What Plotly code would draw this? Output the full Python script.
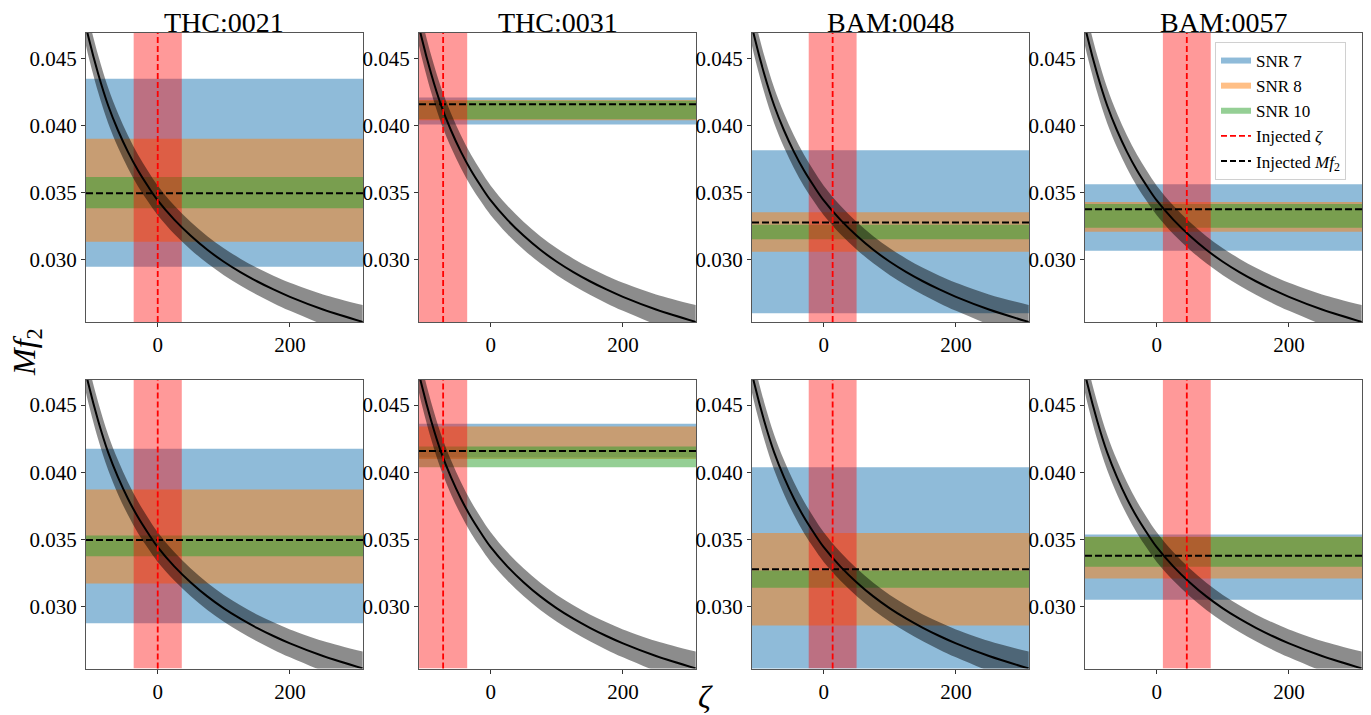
import plotly.graph_objects as go
from plotly.subplots import make_subplots

# ---------------- data ----------------
panels = ["THC:0021", "THC:0031", "BAM:0048", "BAM:0057"]

# injected values per panel
zeta_inj = [0.0, -72.0, 13.5, 45.5]
zeta_err = [36.4, 36.4, 36.2, 36.2]
mf2_inj = [0.03495, 0.04158, 0.03277, 0.03377]

# fit relation Mf2(zeta) (black curve) and its half-width (grey band)
zeta_fit = [-110, -105, -90, -75, -60, -45, -30, -15, 0, 25, 50, 75, 100,
            125, 150, 175, 200, 250, 310]
mf2_fit = [0.04771, 0.04661, 0.04382, 0.04148, 0.03962, 0.03803, 0.03666,
           0.03549, 0.03442, 0.03299, 0.03179, 0.03075, 0.02986, 0.02909,
           0.02841, 0.02780, 0.02725, 0.02631, 0.02539]
mf2_fit_hw = [0.00145, 0.00143, 0.00138, 0.00132, 0.00127, 0.00122, 0.00118,
              0.00114, 0.00110, 0.00106, 0.00103, 0.00101, 0.00100, 0.00100,
              0.00100, 0.00102, 0.00104, 0.00112, 0.00125]

# SNR credible bands, top row
snr7_top_lo = [0.02949, 0.04007, 0.02603, 0.03068]
snr7_top_hi = [0.04346, 0.04208, 0.03815, 0.03563]
snr8_top_lo = [0.03135, 0.04039, 0.03061, 0.03210]
snr8_top_hi = [0.03900, 0.04188, 0.03354, 0.03431]
snr10_top_lo = [0.03384, 0.04045, 0.03153, 0.03239]
snr10_top_hi = [0.03617, 0.04184, 0.03262, 0.03416]

# SNR credible bands, bottom row
snr7_bot_lo = [0.02875, 0.04110, 0.02400, 0.03050]
snr7_bot_hi = [0.04174, 0.04362, 0.04037, 0.03536]
snr8_bot_lo = [0.03172, 0.04099, 0.02858, 0.03209]
snr8_bot_hi = [0.03872, 0.04340, 0.03547, 0.03520]
snr10_bot_lo = [0.03375, 0.04037, 0.03139, 0.03295]
snr10_bot_hi = [0.03528, 0.04191, 0.03268, 0.03518]

snr_labels = ["SNR 7", "SNR 8", "SNR 10"]
x_ticks = [0, 200]
y_ticks = [0.030, 0.035, 0.040, 0.045]

# ---------------- styling / layout ----------------
WF, HF = 1371, 715
SERIF = "Liberation Serif"
SNR_COLORS = ["rgba(31,119,180,0.5)", "rgba(255,127,14,0.5)", "rgba(44,160,44,0.5)"]
RED_FILL = "rgba(255,0,0,0.4)"
GREY_FILL = "rgba(0,0,0,0.45)"
XR = [-108.5, 310.5]
YR = [0.02538, 0.04687]
COL_L = [86, 419, 752, 1085]
PW = 277
ROW_T = [33, 380]
ROW_B = [322, 668.5]


def px_x(p):
    return p / WF


def px_y(p):
    return 1 - p / HF


fig = make_subplots(rows=2, cols=4)

upper = [m + h for m, h in zip(mf2_fit, mf2_fit_hw)]
lower = [m - h for m, h in zip(mf2_fit, mf2_fit_hw)]

rows_bands = [
    [(snr7_top_lo, snr7_top_hi), (snr8_top_lo, snr8_top_hi), (snr10_top_lo, snr10_top_hi)],
    [(snr7_bot_lo, snr7_bot_hi), (snr8_bot_lo, snr8_bot_hi), (snr10_bot_lo, snr10_bot_hi)],
]

for r in range(2):
    for c in range(4):
        R, C = r + 1, c + 1
        first = (r == 0 and c == 0)
        # SNR bands spanning the full zeta range
        for k, (lo, hi) in enumerate(rows_bands[r]):
            fig.add_trace(go.Scatter(
                x=[XR[0], XR[1], XR[1], XR[0]], y=[lo[c], lo[c], hi[c], hi[c]],
                mode="none", fill="toself", fillcolor=SNR_COLORS[k],
                name=snr_labels[k], legendgroup=snr_labels[k], legendrank=k + 1,
                showlegend=first, hoverinfo="skip"), row=R, col=C)
        # injected zeta band
        z0, z1 = zeta_inj[c] - zeta_err[c], zeta_inj[c] + zeta_err[c]
        fig.add_trace(go.Scatter(
            x=[z0, z1, z1, z0], y=[YR[0], YR[0], YR[1], YR[1]],
            mode="none", fill="toself", fillcolor=RED_FILL,
            showlegend=False, hoverinfo="skip"), row=R, col=C)
        # grey band of fit
        fig.add_trace(go.Scatter(x=zeta_fit, y=lower, mode="lines",
                                 line=dict(width=0, shape="spline"),
                                 showlegend=False, hoverinfo="skip"), row=R, col=C)
        fig.add_trace(go.Scatter(x=zeta_fit, y=upper, mode="lines",
                                 line=dict(width=0, shape="spline"),
                                 fill="tonexty", fillcolor=GREY_FILL,
                                 showlegend=False, hoverinfo="skip"), row=R, col=C)
        # fit curve
        fig.add_trace(go.Scatter(x=zeta_fit, y=mf2_fit, mode="lines",
                                 line=dict(color="black", width=2, shape="spline"),
                                 showlegend=False, hoverinfo="skip"), row=R, col=C)
        # injected lines
        fig.add_hline(y=mf2_inj[c], line=dict(color="black", width=2, dash="7px,3px"),
                      row=R, col=C)
        fig.add_vline(x=zeta_inj[c], line=dict(color="red", width=1.8, dash="6px,3px"),
                      row=R, col=C)

        fig.update_xaxes(domain=[px_x(COL_L[c]), px_x(COL_L[c] + PW)], range=XR,
                         tickvals=x_ticks, row=R, col=C)
        fig.update_yaxes(domain=[px_y(ROW_B[r]), px_y(ROW_T[r])], range=YR,
                         tickvals=y_ticks, tickformat=".3f", row=R, col=C)

# legend entries for the dashed lines
fig.add_trace(go.Scatter(x=[None], y=[None], mode="lines",
                         line=dict(color="red", width=1.8, dash="6px,3px"),
                         name="Injected <i>ζ</i>", legendrank=4), row=1, col=4)
fig.add_trace(go.Scatter(x=[None], y=[None], mode="lines",
                         line=dict(color="black", width=2, dash="6px,3px"),
                         name="Injected <i>Mf</i><sub>2</sub>", legendrank=5), row=1, col=4)

axis_style = dict(showgrid=False, zeroline=False, showline=True, mirror=True,
                  linecolor="#555", linewidth=1, ticks="outside", ticklen=4,
                  tickwidth=1, tickcolor="#333",
                  tickfont=dict(family=SERIF, size=21, color="black"))
fig.update_xaxes(**axis_style)
fig.update_yaxes(**axis_style)

# panel titles
for c, name in enumerate(panels):
    fig.add_annotation(text=name, x=px_x(COL_L[c] + PW / 2), y=px_y(22),
                       xref="paper", yref="paper", showarrow=False,
                       xanchor="center", yanchor="middle",
                       font=dict(family=SERIF, size=28, color="black"))

# axis labels
fig.add_annotation(text="<i>Mf</i><sub>2</sub>", x=px_x(26), y=px_y(352),
                   xref="paper", yref="paper", showarrow=False, textangle=-90,
                   xanchor="center", yanchor="middle",
                   font=dict(family=SERIF, size=32, color="black"))
fig.add_annotation(text="<i>ζ</i>", x=px_x(705), y=px_y(697),
                   xref="paper", yref="paper", showarrow=False,
                   xanchor="center", yanchor="middle",
                   font=dict(family=SERIF, size=32, color="black"))

fig.update_layout(
    width=WF, height=HF,
    margin=dict(l=0, r=0, t=0, b=0),
    paper_bgcolor="white", plot_bgcolor="white",
    showlegend=True,
    legend=dict(x=px_x(1346), y=px_y(42), xanchor="right", yanchor="top",
                traceorder="normal",
                bgcolor="rgba(255,255,255,0.8)", bordercolor="#d0d0d0",
                borderwidth=1, font=dict(family=SERIF, size=17, color="black"),
                tracegroupgap=0),
)

fig.write_html("out.html", config={"displayModeBar": False},
               post_script="document.body.style.margin='0px';")
